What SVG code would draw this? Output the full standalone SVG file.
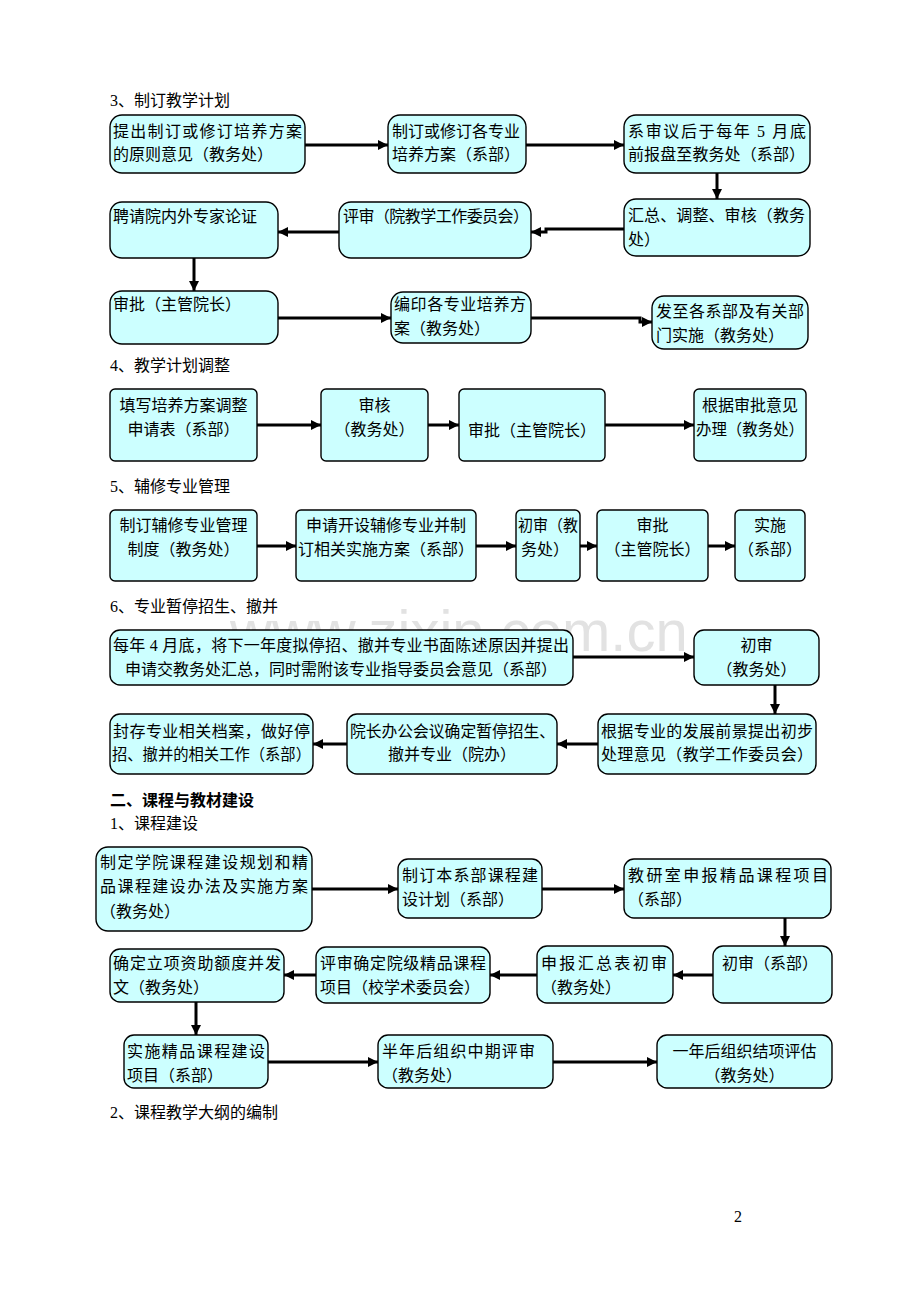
<svg xmlns="http://www.w3.org/2000/svg" width="920" height="1302" viewBox="0 0 920 1302">
<defs>
<marker id="ah" markerUnits="userSpaceOnUse" markerWidth="10" markerHeight="10" refX="10" refY="5" orient="auto">
<path d="M0,0 L10,5 L0,10 z" fill="#000"/>
</marker>
<style>
.t{font-family:"Liberation Serif","Noto Sans CJK SC",serif;font-size:16px;fill:#000}
.c{text-anchor:middle}
.b{fill:#CCFFFF;stroke:#000;stroke-width:1.4}
.a{fill:none;stroke:#000;stroke-width:3;marker-end:url(#ah)}
.wm{font-family:"Liberation Sans",Arial,sans-serif;font-size:58px;fill:#e2e2e2}
</style>
</defs>
<rect width="920" height="1302" fill="#fff"/>
<text class="wm" x="230" y="651">www.zixin.com.cn</text>

<g id="headings">
<text class="t" x="110" y="106">3、制订教学计划</text>
<text class="t" x="110" y="371">4、教学计划调整</text>
<text class="t" x="110" y="492">5、辅修专业管理</text>
<text class="t" x="110" y="612">6、专业暂停招生、撤并</text>
<text class="t" x="110" y="806" font-weight="bold">二、课程与教材建设</text>
<text class="t" x="110" y="829">1、课程建设</text>
<text class="t" x="110" y="1118">2、课程教学大纲的编制</text>
<text class="t" x="734" y="1222">2</text>
</g>

<g id="connectors">
<line class="a" x1="305" y1="145" x2="388" y2="145"/>
<line class="a" x1="526" y1="145" x2="624" y2="145"/>
<line class="a" x1="717" y1="173" x2="717" y2="199"/>
<polyline class="a" points="624,229 546,229 546,232 531,232"/>
<line class="a" x1="339" y1="232" x2="278" y2="232"/>
<line class="a" x1="194" y1="258" x2="194" y2="291"/>
<line class="a" x1="278" y1="318" x2="391" y2="318"/>
<polyline class="a" points="531,318 640,318 640,322 652,322"/>

<line class="a" x1="257" y1="425" x2="321" y2="425"/>
<line class="a" x1="428" y1="425" x2="459" y2="425"/>
<line class="a" x1="605" y1="425" x2="694" y2="425"/>

<line class="a" x1="257" y1="546" x2="296" y2="546"/>
<line class="a" x1="476" y1="546" x2="516" y2="546"/>
<line class="a" x1="580" y1="546" x2="597" y2="546"/>
<line class="a" x1="708" y1="546" x2="735" y2="546"/>

<line class="a" x1="573" y1="657" x2="694" y2="657"/>
<line class="a" x1="775" y1="685" x2="775" y2="714"/>
<line class="a" x1="598" y1="744" x2="557" y2="744"/>
<line class="a" x1="347" y1="744" x2="313" y2="744"/>

<line class="a" x1="312" y1="889" x2="398" y2="889"/>
<line class="a" x1="542" y1="889" x2="624" y2="889"/>
<line class="a" x1="785" y1="918" x2="785" y2="946"/>
<line class="a" x1="713" y1="975" x2="673" y2="975"/>
<line class="a" x1="537" y1="975" x2="490" y2="975"/>
<line class="a" x1="316" y1="975" x2="284" y2="975"/>
<line class="a" x1="196" y1="1002" x2="196" y2="1035"/>
<line class="a" x1="268" y1="1062" x2="378" y2="1062"/>
<line class="a" x1="553" y1="1062" x2="657" y2="1062"/>
</g>

<!-- Section 3 -->
<g id="b1"><rect class="b" x="110" y="115" width="195" height="58" rx="12"/>
<text class="t" x="113" y="137" textLength="189" lengthAdjust="spacing">提出制订或修订培养方案</text>
<text class="t" x="113" y="160">的原则意见（教务处）</text></g>
<g id="b2"><rect class="b" x="388" y="115" width="138" height="58" rx="12"/>
<text class="t" x="392" y="137">制订或修订各专业</text>
<text class="t" x="392" y="160">培养方案（系部）</text></g>
<g id="b3"><rect class="b" x="624" y="115" width="186" height="58" rx="12"/>
<text class="t" x="628" y="137" textLength="178" lengthAdjust="spacing">系审议后于每年 5 月底</text>
<text class="t" x="628" y="160" textLength="177" lengthAdjust="spacing">前报盘至教务处（系部）</text></g>
<g id="b4"><rect class="b" x="624" y="199" width="186" height="57" rx="12"/>
<text class="t" x="628" y="221" textLength="177" lengthAdjust="spacing">汇总、调整、审核（教务</text>
<text class="t" x="628" y="245">处）</text></g>
<g id="b5"><rect class="b" x="339" y="202" width="192" height="56" rx="12"/>
<text class="t" x="343" y="222" textLength="186" lengthAdjust="spacing">评审（院教学工作委员会）</text></g>
<g id="b6"><rect class="b" x="110" y="202" width="168" height="56" rx="12"/>
<text class="t" x="113" y="222">聘请院内外专家论证</text></g>
<g id="b7"><rect class="b" x="110" y="291" width="168" height="53" rx="12"/>
<text class="t" x="113" y="310">审批（主管院长）</text></g>
<g id="b8"><rect class="b" x="391" y="292" width="140" height="51" rx="12"/>
<text class="t" x="394" y="310" textLength="132" lengthAdjust="spacing">编印各专业培养方</text>
<text class="t" x="394" y="334">案（教务处）</text></g>
<g id="b9"><rect class="b" x="652" y="296" width="156" height="53" rx="12"/>
<text class="t" x="656" y="317" textLength="148" lengthAdjust="spacing">发至各系部及有关部</text>
<text class="t" x="656" y="341">门实施（教务处）</text></g>

<!-- Section 4 -->
<g id="c1"><rect class="b" x="110" y="389" width="147" height="72" rx="5"/>
<text class="t c" x="183.5" y="411">填写培养方案调整</text>
<text class="t c" x="183.5" y="435">申请表（系部）</text></g>
<g id="c2"><rect class="b" x="321" y="389" width="107" height="72" rx="5"/>
<text class="t c" x="374.5" y="411">审核</text>
<text class="t c" x="374.5" y="435">（教务处）</text></g>
<g id="c3"><rect class="b" x="459" y="389" width="146" height="72" rx="5"/>
<text class="t c" x="532" y="436">审批（主管院长）</text></g>
<g id="c4"><rect class="b" x="694" y="389" width="112" height="72" rx="5"/>
<text class="t c" x="750" y="411">根据审批意见</text>
<text class="t" x="696" y="435" textLength="108" lengthAdjust="spacingAndGlyphs">办理（教务处）</text></g>

<!-- Section 5 -->
<g id="d1"><rect class="b" x="110" y="510" width="147" height="71" rx="5"/>
<text class="t c" x="183.5" y="531">制订辅修专业管理</text>
<text class="t c" x="183.5" y="555">制度（教务处）</text></g>
<g id="d2"><rect class="b" x="296" y="510" width="180" height="71" rx="5"/>
<text class="t c" x="386" y="531">申请开设辅修专业并制</text>
<text class="t c" x="386" y="555">订相关实施方案（系部）</text></g>
<g id="d3"><rect class="b" x="516" y="510" width="64" height="71" rx="5"/>
<text class="t" x="518" y="531" textLength="60" lengthAdjust="spacingAndGlyphs">初审（教</text>
<text class="t" x="521" y="555">务处）</text></g>
<g id="d4"><rect class="b" x="597" y="510" width="111" height="71" rx="5"/>
<text class="t c" x="652.5" y="531">审批</text>
<text class="t c" x="652.5" y="555">（主管院长）</text></g>
<g id="d5"><rect class="b" x="735" y="510" width="70" height="71" rx="5"/>
<text class="t c" x="770" y="531">实施</text>
<text class="t c" x="770" y="555">（系部）</text></g>

<!-- Section 6 -->
<g id="e1"><rect class="b" x="110" y="630" width="463" height="55" rx="10"/>
<text class="t" x="113" y="651" textLength="456" lengthAdjust="spacing">每年 4 月底，将下一年度拟停招、撤并专业书面陈述原因并提出</text>
<text class="t c" x="341" y="675">申请交教务处汇总，同时需附该专业指导委员会意见（系部）</text></g>
<g id="e2"><rect class="b" x="694" y="630" width="125" height="55" rx="10"/>
<text class="t c" x="756.5" y="651">初审</text>
<text class="t c" x="756.5" y="675">（教务处）</text></g>
<g id="e3"><rect class="b" x="598" y="714" width="218" height="60" rx="10"/>
<text class="t" x="601" y="737" textLength="212" lengthAdjust="spacing">根据专业的发展前景提出初步</text>
<text class="t" x="601" y="760" textLength="212" lengthAdjust="spacing">处理意见（教学工作委员会）</text></g>
<g id="e4"><rect class="b" x="347" y="714" width="210" height="60" rx="10"/>
<text class="t" x="350" y="737" textLength="205" lengthAdjust="spacingAndGlyphs">院长办公会议确定暂停招生、</text>
<text class="t c" x="452" y="760">撤并专业（院办）</text></g>
<g id="e5"><rect class="b" x="110" y="714" width="203" height="60" rx="10"/>
<text class="t" x="113" y="737" textLength="197" lengthAdjust="spacing">封存专业相关档案，做好停</text>
<text class="t" x="112" y="760" textLength="199" lengthAdjust="spacingAndGlyphs">招、撤并的相关工作（系部）</text></g>

<!-- Section 二 -->
<g id="f1"><rect class="b" x="96" y="847" width="216" height="84" rx="12"/>
<text class="t" x="100" y="868" textLength="208" lengthAdjust="spacing">制定学院课程建设规划和精</text>
<text class="t" x="100" y="892" textLength="208" lengthAdjust="spacing">品课程建设办法及实施方案</text>
<text class="t" x="100" y="917">（教务处）</text></g>
<g id="f2"><rect class="b" x="398" y="859" width="144" height="59" rx="10"/>
<text class="t" x="402" y="881" textLength="136" lengthAdjust="spacing">制订本系部课程建</text>
<text class="t" x="402" y="905">设计划（系部）</text></g>
<g id="f3"><rect class="b" x="624" y="859" width="207" height="59" rx="10"/>
<text class="t" x="628" y="881" textLength="200" lengthAdjust="spacing">教研室申报精品课程项目</text>
<text class="t" x="628" y="905">（系部）</text></g>
<g id="f4"><rect class="b" x="713" y="946" width="119" height="57" rx="10"/>
<text class="t c" x="770" y="969">初审（系部）</text></g>
<g id="f5"><rect class="b" x="537" y="946" width="136" height="57" rx="10"/>
<text class="t" x="541" y="969" textLength="126" lengthAdjust="spacing">申报汇总表初审</text>
<text class="t" x="541" y="993">（教务处）</text></g>
<g id="f6"><rect class="b" x="316" y="947" width="174" height="56" rx="10"/>
<text class="t" x="320" y="969" textLength="166" lengthAdjust="spacing">评审确定院级精品课程</text>
<text class="t" x="320" y="993" textLength="160" lengthAdjust="spacing">项目（校学术委员会）</text></g>
<g id="f7"><rect class="b" x="110" y="949" width="174" height="53" rx="10"/>
<text class="t" x="113" y="969" textLength="168" lengthAdjust="spacing">确定立项资助额度并发</text>
<text class="t" x="113" y="993">文（教务处）</text></g>
<g id="f8"><rect class="b" x="124" y="1035" width="144" height="53" rx="10"/>
<text class="t" x="127" y="1057" textLength="138" lengthAdjust="spacing">实施精品课程建设</text>
<text class="t" x="127" y="1081">项目（系部）</text></g>
<g id="f9"><rect class="b" x="378" y="1035" width="175" height="53" rx="10"/>
<text class="t" x="382" y="1057" textLength="153" lengthAdjust="spacing">半年后组织中期评审</text>
<text class="t" x="382" y="1081">（教务处）</text></g>
<g id="f10"><rect class="b" x="657" y="1035" width="175" height="53" rx="10"/>
<text class="t c" x="744.5" y="1057">一年后组织结项评估</text>
<text class="t c" x="744.5" y="1081">（教务处）</text></g>
</svg>
